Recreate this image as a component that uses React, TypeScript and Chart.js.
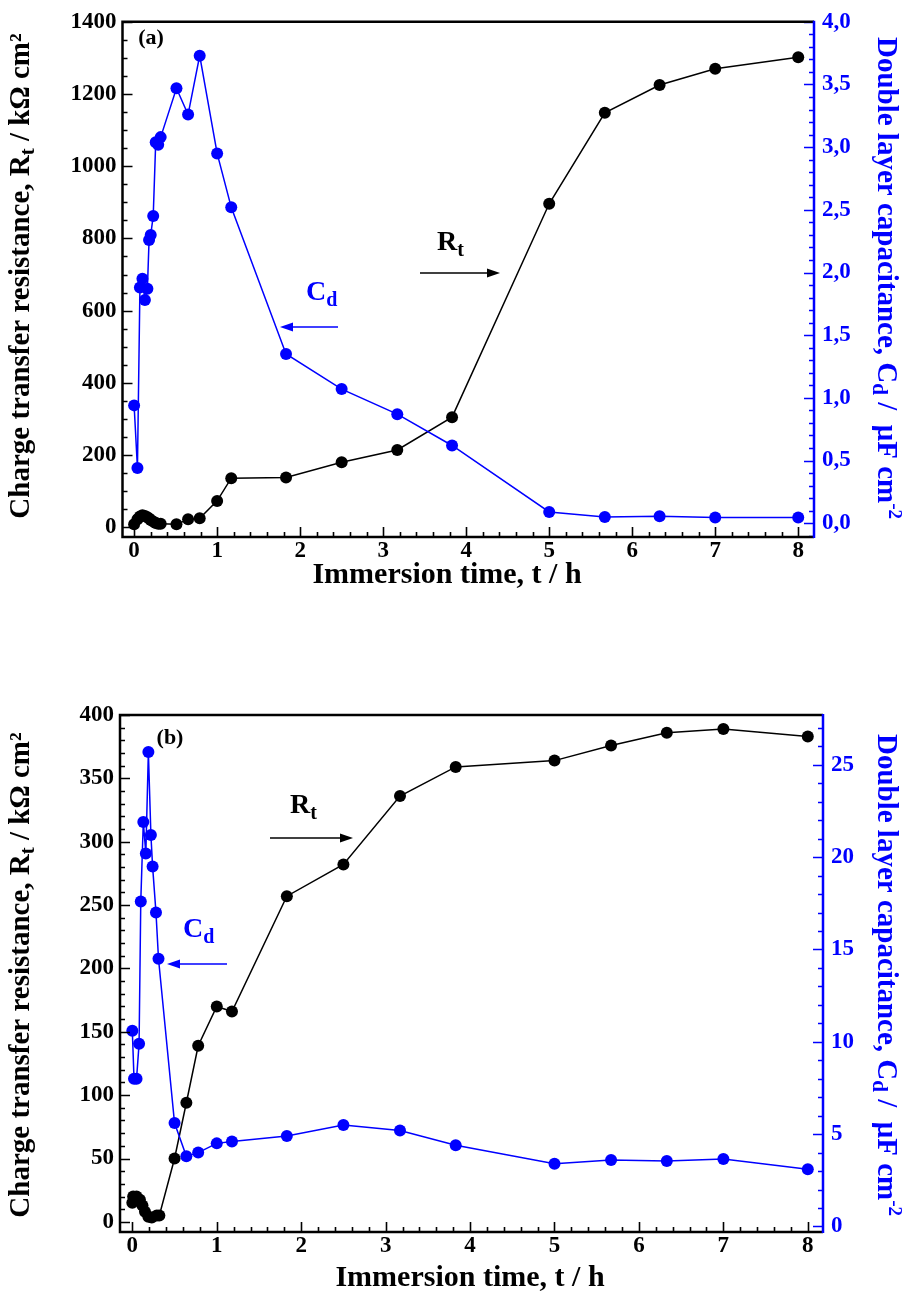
import React, { useEffect, useRef } from "react";
import { Chart, registerables } from "chart.js";
Chart.register(...registerables);

const FONT = "'Liberation Serif', 'Times New Roman', Times, serif";
const BLUE = "#0000ff";

// ---------- Panel (a) data ----------
const timeA_rt = [0, 0.04, 0.07, 0.1, 0.13, 0.16, 0.18, 0.2, 0.23, 0.26, 0.29, 0.32, 0.51, 0.65, 0.79, 1.0, 1.17, 1.83, 2.5, 3.17, 3.83, 5.0, 5.67, 6.33, 7.0, 8.0];
const rtA = [8, 22, 30, 33, 31, 28, 24, 20, 16, 12, 10, 10, 8, 22, 25, 73, 136, 138, 180, 214, 305, 896, 1148, 1225, 1270, 1302];
const timeA_cd = [0, 0.04, 0.07, 0.1, 0.13, 0.16, 0.18, 0.2, 0.23, 0.26, 0.29, 0.32, 0.51, 0.65, 0.79, 1.0, 1.17, 1.83, 2.5, 3.17, 3.83, 5.0, 5.67, 6.33, 7.0, 8.0];
const cdA = [0.94, 0.44, 1.88, 1.95, 1.78, 1.87, 2.26, 2.3, 2.45, 3.04, 3.02, 3.08, 3.47, 3.26, 3.73, 2.95, 2.52, 1.35, 1.07, 0.87, 0.62, 0.09, 0.05, 0.055, 0.045, 0.045];

// ---------- Panel (b) data ----------
const timeB_rt = [0, 0.01, 0.05, 0.09, 0.12, 0.15, 0.19, 0.23, 0.29, 0.32, 0.5, 0.64, 0.78, 1.0, 1.18, 1.83, 2.5, 3.17, 3.83, 5.0, 5.67, 6.33, 7.0, 8.0];
const rtB = [15, 20, 20, 17.5, 13, 8, 4, 3.5, 5, 5, 50, 94, 139, 170, 166, 257, 282, 336, 359, 364, 376, 386, 389, 383];
const timeB_cd = [0, 0.02, 0.05, 0.08, 0.1, 0.13, 0.16, 0.19, 0.22, 0.24, 0.28, 0.31, 0.5, 0.64, 0.78, 1.0, 1.18, 1.83, 2.5, 3.17, 3.83, 5.0, 5.67, 6.33, 7.0, 8.0];
const cdB = [10.6, 8.0, 8.0, 9.9, 17.6, 21.9, 20.2, 25.7, 21.2, 19.5, 17.0, 14.5, 5.6, 3.8, 4.0, 4.5, 4.6, 4.9, 5.5, 5.2, 4.4, 3.4, 3.6, 3.55, 3.65, 3.1];

// ---------- Ticks ----------
const xTicks = [0, 1, 2, 3, 4, 5, 6, 7, 8];
const leftTicksA = [0, 200, 400, 600, 800, 1000, 1200, 1400];
const rightTicksA = [0, 0.5, 1, 1.5, 2, 2.5, 3, 3.5, 4];
const leftTicksB = [0, 50, 100, 150, 200, 250, 300, 350, 400];
const rightTicksB = [0, 5, 10, 15, 20, 25];

// ---------- Texts ----------
const xTitle = "Immersion time, t / h";
const leftTitle = [
  { t: "Charge transfer resistance, R", s: 29, dy: 0 },
  { t: "t", s: 21, dy: 7 },
  { t: " / kΩ cm²", s: 29, dy: 0 },
];
const rightTitle = [
  { t: "Double layer capacitance, C", s: 29, dy: 0 },
  { t: "d", s: 21, dy: 7 },
  { t: " /  μF cm", s: 29, dy: 0 },
  { t: "-2", s: 19, dy: -9 },
];

type Part = { t: string; s: number; dy: number };

function drawRich(ctx: CanvasRenderingContext2D, parts: Part[], x: number, y: number, rot: number, color: string, align: "center" | "left") {
  ctx.save();
  ctx.translate(x, y);
  ctx.rotate(rot);
  ctx.fillStyle = color;
  ctx.textBaseline = "middle";
  ctx.textAlign = "left";
  let total = 0;
  const widths: number[] = [];
  for (const p of parts) {
    ctx.font = `bold ${p.s}px ${FONT}`;
    const w = ctx.measureText(p.t).width;
    widths.push(w);
    total += w;
  }
  let cx = align === "center" ? -total / 2 : 0;
  parts.forEach((p, i) => {
    ctx.font = `bold ${p.s}px ${FONT}`;
    ctx.fillText(p.t, cx, p.dy);
    cx += widths[i];
  });
  ctx.restore();
}

function arrow(ctx: CanvasRenderingContext2D, x1: number, y: number, x2: number, color: string) {
  ctx.save();
  ctx.strokeStyle = color;
  ctx.fillStyle = color;
  ctx.lineWidth = 1.5;
  const dir = Math.sign(x2 - x1);
  ctx.beginPath();
  ctx.moveTo(x1, y);
  ctx.lineTo(x2 - dir * 10, y);
  ctx.stroke();
  ctx.beginPath();
  ctx.moveTo(x2, y);
  ctx.lineTo(x2 - dir * 13, y - 4.5);
  ctx.lineTo(x2 - dir * 13, y + 4.5);
  ctx.closePath();
  ctx.fill();
  ctx.restore();
}

type Panel = {
  id: string;
  height: number;
  padTop: number;
  leftW: number;
  rightW: number;
  bottomH: number;
  xMin: number; xMax: number;
  yMin: number; yMax: number;
  y1Min: number; y1Max: number;
  yTicks: number[]; y1Ticks: number[];
  yMinor: number; y1Minor: number; yMajor: number; y1Major: number;
  fmtRight: (v: number) => string;
  tRt: number[]; rt: number[]; tCd: number[]; cd: number[];
  tag: string; tagPos: [number, number];
  rtPos: [number, number]; rtArrow: [number, number, number];
  cdPos: [number, number]; cdArrow: [number, number, number];
  leftTitlePos: [number, number]; rightTitlePos: [number, number]; xTitlePos: [number, number];
};

const panelA: Panel = {
  id: "a", height: 650, padTop: 19, leftW: 122.5, rightW: 909 - 814, bottomH: 650 - 537,
  xMin: -0.14, xMax: 8.19, yMin: -27, yMax: 1400, y1Min: -0.11, y1Max: 4.0,
  yTicks: leftTicksA, y1Ticks: rightTicksA, yMinor: 50, y1Minor: 0.1, yMajor: 200, y1Major: 0.5,
  fmtRight: (v) => v.toFixed(1).replace(".", ","),
  tRt: timeA_rt, rt: rtA, tCd: timeA_cd, cd: cdA,
  tag: "(a)", tagPos: [151, 38],
  rtPos: [437, 243], rtArrow: [420, 273, 500],
  cdPos: [306, 293], cdArrow: [338, 327, 280],
  leftTitlePos: [22, 276], rightTitlePos: [885, 278], xTitlePos: [447, 575],
};

const panelB: Panel = {
  id: "b", height: 656, padTop: 60, leftW: 120, rightW: 909 - 823, bottomH: 656 - 577,
  xMin: -0.146, xMax: 8.18, yMin: -8, yMax: 400, y1Min: -0.3, y1Max: 27.7,
  yTicks: leftTicksB, y1Ticks: rightTicksB, yMinor: 10, y1Minor: 1, yMajor: 50, y1Major: 5,
  fmtRight: (v) => String(v),
  tRt: timeB_rt, rt: rtB, tCd: timeB_cd, cd: cdB,
  tag: "(b)", tagPos: [170, 83],
  rtPos: [290, 151], rtArrow: [270, 183, 353],
  cdPos: [183, 275], cdArrow: [227, 309, 167],
  leftTitlePos: [22, 320], rightTitlePos: [885, 320], xTitlePos: [470, 623],
};

function ticksBetween(min: number, max: number, step: number) {
  const out: number[] = [];
  const start = Math.ceil(min / step - 1e-9);
  const end = Math.floor(max / step + 1e-9);
  for (let i = start; i <= end; i++) out.push(+(i * step).toFixed(6));
  return out;
}
function isMajor(v: number, major: number) {
  return Math.abs(v / major - Math.round(v / major)) < 1e-6;
}

function makeChart(canvas: HTMLCanvasElement, p: Panel) {
  const decor = {
    id: "decor_" + p.id,
    afterDatasetsDraw(chart: any) {
      const ctx: CanvasRenderingContext2D = chart.ctx;
      const a = chart.chartArea;
      const xs = chart.scales.x, ys = chart.scales.y, y1s = chart.scales.y1;
      ctx.save();
      ctx.lineWidth = 1.6;
      ctx.strokeStyle = "#000";
      ctx.beginPath();
      for (const v of ticksBetween(p.xMin, p.xMax, 0.2)) {
        const px = Math.round(xs.getPixelForValue(v)) + 0.5;
        const L = isMajor(v, 1) ? 10 : 5;
        ctx.moveTo(px, a.bottom);
        ctx.lineTo(px, a.bottom - L);
      }
      for (const v of ticksBetween(p.yMin, p.yMax, p.yMinor)) {
        const py = Math.round(ys.getPixelForValue(v)) + 0.5;
        const L = isMajor(v, p.yMajor) ? 10 : 5;
        ctx.moveTo(a.left, py);
        ctx.lineTo(a.left + L, py);
      }
      ctx.stroke();
      ctx.strokeStyle = BLUE;
      ctx.beginPath();
      for (const v of ticksBetween(p.y1Min, p.y1Max, p.y1Minor)) {
        const py = Math.round(y1s.getPixelForValue(v)) + 0.5;
        const L = isMajor(v, p.y1Major) ? 10 : 5;
        ctx.moveTo(a.right, py);
        ctx.lineTo(a.right - L, py);
      }
      ctx.stroke();
      ctx.lineWidth = 2.5;
      ctx.strokeStyle = "#000";
      ctx.beginPath();
      ctx.moveTo(a.right, a.top);
      ctx.lineTo(a.left, a.top);
      ctx.lineTo(a.left, a.bottom);
      ctx.lineTo(a.right, a.bottom);
      ctx.stroke();
      ctx.strokeStyle = BLUE;
      ctx.beginPath();
      ctx.moveTo(a.right, a.top - 1);
      ctx.lineTo(a.right, a.bottom + 1);
      ctx.stroke();
      ctx.restore();

      drawRich(ctx, [{ t: p.tag, s: 22, dy: 0 }], p.tagPos[0], p.tagPos[1], 0, "#000", "center");
      drawRich(ctx, [{ t: "R", s: 28, dy: 0 }, { t: "t", s: 20, dy: 8 }], p.rtPos[0], p.rtPos[1], 0, "#000", "left");
      arrow(ctx, p.rtArrow[0], p.rtArrow[1], p.rtArrow[2], "#000");
      drawRich(ctx, [{ t: "C", s: 28, dy: 0 }, { t: "d", s: 20, dy: 8 }], p.cdPos[0], p.cdPos[1], 0, BLUE, "left");
      arrow(ctx, p.cdArrow[0], p.cdArrow[1], p.cdArrow[2], BLUE);

      drawRich(ctx, leftTitle, p.leftTitlePos[0], p.leftTitlePos[1], -Math.PI / 2, "#000", "center");
      drawRich(ctx, rightTitle, p.rightTitlePos[0], p.rightTitlePos[1], Math.PI / 2, BLUE, "center");
      drawRich(ctx, [{ t: xTitle, s: 30, dy: 0 }], p.xTitlePos[0], p.xTitlePos[1], 0, "#000", "center");
    },
  };

  const tickFont = { size: 23, weight: "bold" as const, family: FONT };

  return new Chart(canvas, {
    type: "line",
    data: {
      datasets: [
        {
          label: "Cd",
          data: p.tCd.map((x, i) => ({ x, y: p.cd[i] })),
          yAxisID: "y1",
          borderColor: BLUE,
          backgroundColor: BLUE,
          pointBackgroundColor: BLUE,
          pointBorderColor: BLUE,
          pointBorderWidth: 0,
          pointRadius: 6,
          borderWidth: 1.5,
          tension: 0,
          clip: false as any,
        },
        {
          label: "Rt",
          data: p.tRt.map((x, i) => ({ x, y: p.rt[i] })),
          yAxisID: "y",
          borderColor: "#000",
          backgroundColor: "#000",
          pointBackgroundColor: "#000",
          pointBorderColor: "#000",
          pointBorderWidth: 0,
          pointRadius: 6,
          borderWidth: 1.5,
          tension: 0,
          clip: false as any,
        },
      ],
    },
    options: {
      responsive: false,
      animation: false,
      devicePixelRatio: 1,
      layout: { padding: { top: p.padTop, left: 0, right: 0, bottom: 0 } },
      plugins: { legend: { display: false }, tooltip: { enabled: false }, title: { display: false } },
      scales: {
        x: {
          type: "linear",
          position: "bottom",
          min: p.xMin,
          max: p.xMax,
          grid: { display: false, drawTicks: false },
          border: { display: false },
          ticks: { font: tickFont, color: "#000", padding: 0, maxRotation: 0, autoSkip: false, callback: (v: any) => String(v) },
          afterBuildTicks: (s: any) => { s.ticks = xTicks.map((v) => ({ value: v })); },
          afterFit: (s: any) => { s.height = p.bottomH; },
        },
        y: {
          type: "linear",
          position: "left",
          min: p.yMin,
          max: p.yMax,
          grid: { display: false, drawTicks: false },
          border: { display: false },
          ticks: { font: tickFont, color: "#000", padding: 6, autoSkip: false, callback: (v: any) => String(v) },
          afterBuildTicks: (s: any) => { s.ticks = p.yTicks.map((v) => ({ value: v })); },
          afterFit: (s: any) => { s.width = p.leftW; },
        },
        y1: {
          type: "linear",
          position: "right",
          min: p.y1Min,
          max: p.y1Max,
          grid: { display: false, drawTicks: false },
          border: { display: false },
          ticks: { font: tickFont, color: BLUE, padding: 8, autoSkip: false, callback: (v: any) => p.fmtRight(Number(v)) },
          afterBuildTicks: (s: any) => { s.ticks = p.y1Ticks.map((v) => ({ value: v })); },
          afterFit: (s: any) => { s.width = p.rightW; },
        },
      },
    } as any,
    plugins: [decor],
  });
}

export default function App() {
  const refA = useRef<HTMLCanvasElement>(null);
  const refB = useRef<HTMLCanvasElement>(null);
  useEffect(() => {
    const a = makeChart(refA.current!, panelA);
    const b = makeChart(refB.current!, panelB);
    return () => {
      a.destroy();
      b.destroy();
    };
  }, []);
  return (
    <div style={{ position: "absolute", left: 0, top: 0, width: 909, height: 1311, background: "#fff" }}>
      <canvas ref={refA} width={909} height={650} style={{ position: "absolute", left: 0, top: 0, width: 909, height: 650 }} />
      <canvas ref={refB} width={909} height={656} style={{ position: "absolute", left: 0, top: 655, width: 909, height: 656 }} />
    </div>
  );
}
